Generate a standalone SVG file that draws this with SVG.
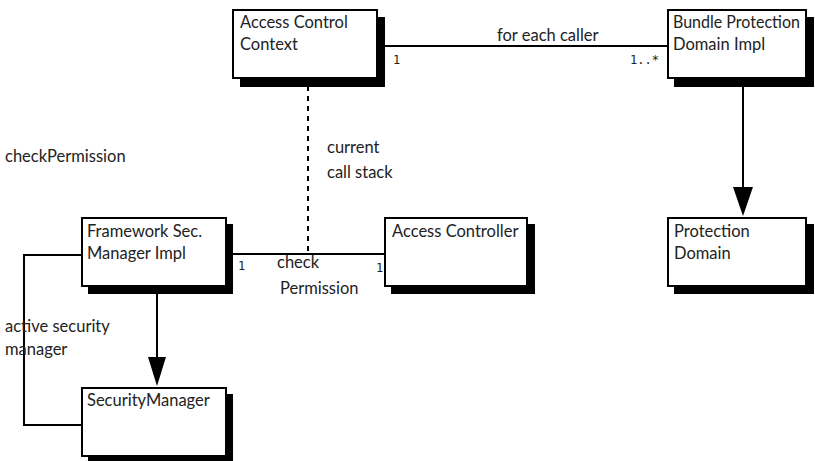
<svg xmlns="http://www.w3.org/2000/svg" width="815" height="461" viewBox="0 0 815 461">
<style>
.shadow{fill:#000}
.box{fill:#fff;stroke:#000;stroke-width:2}
.t{font-family:Lato,"Open Sans",sans-serif;font-size:16.5px;fill:#222}
.m{font-family:"DejaVu Sans Mono","Liberation Mono",monospace;font-size:12px;fill:#222}
.ln{fill:none;stroke:#000;stroke-width:2}
.dash{fill:none;stroke:#000;stroke-width:2;stroke-dasharray:5,5}
</style>
<rect width="815" height="461" fill="#fff"/>
<g id="connectors">
<line class="ln" x1="384" y1="46" x2="667" y2="46"/>
<line class="dash" x1="308" y1="86" x2="308" y2="254"/>
<line class="ln" x1="233" y1="254" x2="384" y2="254"/>
<polyline class="ln" points="81,255 24,255 24,425 81,425"/>
<path d="M157,294 V357" class="ln"/>
<path d="M148,357 L166,357 L157,386 Z" fill="#000"/>
<path d="M743,86 V187" class="ln"/>
<path d="M733,187 L753,187 L743,216 Z" fill="#000"/>
<text class="t" x="497" y="41">for each caller</text>
<text class="m" x="393" y="64">1</text>
<text class="m" x="630" y="64">1..*</text>
<text class="t" x="327" y="153">current</text>
<text class="t" x="327" y="178">call stack</text>
<text class="t" x="277" y="268">check</text>
<text class="t" x="280" y="294">Permission</text>
<text class="m" x="238" y="270">1</text>
<text class="m" x="376" y="272">1</text>
<text class="t" x="5" y="332">active security</text>
<text class="t" x="5" y="355">manager</text>
</g>
<text class="t" x="5" y="162">checkPermission</text>
<g id="access-control-context">
<rect class="shadow" x="240" y="17" width="145" height="70"/>
<rect class="box" x="233" y="10" width="144" height="68"/>
<text class="t" x="240" y="28">Access Control</text>
<text class="t" x="240" y="50">Context</text>
</g>
<g id="bundle-protection-domain-impl">
<rect class="shadow" x="674" y="17" width="140" height="70"/>
<rect class="box" x="668" y="10" width="138" height="68"/>
<text class="t" x="673" y="28" textLength="127" lengthAdjust="spacingAndGlyphs">Bundle Protection</text>
<text class="t" x="673" y="50">Domain Impl</text>
</g>
<g id="protection-domain">
<rect class="shadow" x="674" y="224" width="140" height="70"/>
<rect class="box" x="668" y="218" width="138" height="68"/>
<text class="t" x="674" y="237">Protection</text>
<text class="t" x="674" y="259">Domain</text>
</g>
<g id="framework-sec-manager-impl">
<rect class="shadow" x="88" y="224" width="145" height="70"/>
<rect class="box" x="82" y="218" width="144" height="68"/>
<text class="t" x="87" y="237">Framework Sec.</text>
<text class="t" x="87" y="259">Manager Impl</text>
</g>
<g id="access-controller">
<rect class="shadow" x="391" y="224" width="144" height="70"/>
<rect class="box" x="385" y="218" width="142" height="68"/>
<text class="t" x="392" y="237">Access Controller</text>
</g>
<g id="security-manager">
<rect class="shadow" x="88" y="394" width="145" height="70"/>
<rect class="box" x="82" y="388" width="144" height="68"/>
<text class="t" x="87" y="406">SecurityManager</text>
</g>
</svg>
